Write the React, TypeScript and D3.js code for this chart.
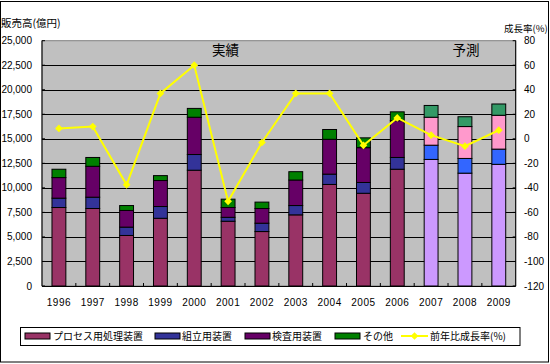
import React from 'react';
import * as d3 from 'd3';

const years = ['1996','1997','1998','1999','2000','2001','2002','2003','2004','2005','2006','2007','2008','2009'];
const processEq = [8000, 7900, 5150, 6900, 11800, 6600, 5550, 7250, 10350, 9450, 11900, 12900, 11500, 12400];
const assemblyEq = [950, 1150, 850, 1200, 1600, 400, 850, 950, 1050, 1100, 1200, 1450, 1500, 1550];
const inspectionEq = [2100, 3150, 1700, 2650, 3800, 1000, 1500, 2600, 3550, 3550, 3750, 2850, 3250, 3450];
const otherEq = [850, 900, 500, 500, 900, 850, 650, 850, 1000, 1000, 900, 1200, 1000, 1150];
const growth = [8.5, 10, -37.5, 37, 60, -51, -3, 37, 37, -5.3, 17, 3, -6, 7];
const forecastYears = ['2007', '2008', '2009'];
const leftTicks = [0, 2500, 5000, 7500, 10000, 12500, 15000, 17500, 20000, 22500, 25000];
const rightTicks = [-120, -100, -80, -60, -40, -20, 0, 20, 40, 60, 80];
const seriesNames = ['プロセス用処理装置', '組立用装置', '検査用装置', 'その他'];
const lineName = '前年比成長率(%)';
const actualColors = ['#993366', '#333399', '#660066', '#008000'];
const forecastColors = ['#CC99FF', '#3366FF', '#FF99CC', '#339966'];

const W = 550, H = 364;
const L = 42, R = 515.7, T = 40.7, B = 286;
const JP = '"Noto Sans CJK JP", "Noto Sans", sans-serif';
const NUM = '"Liberation Sans", Arial, sans-serif';

export default function App() {
  const x = d3.scaleBand<string>().domain(years).range([L, R]).paddingInner(0.59).paddingOuter(0.295);
  const y = d3.scaleLinear().domain([0, 25000]).range([B, T]);
  const y2 = d3.scaleLinear().domain([-120, 80]).range([B, T]);

  const rows = years.map((yr, i) => ({ year: yr, s0: processEq[i], s1: assemblyEq[i], s2: inspectionEq[i], s3: otherEq[i] }));
  const stack = d3.stack<any>().keys(['s0', 's1', 's2', 's3'])(rows);

  const step = x.step();
  const cx = (yr: string) => (x(yr) as number) + x.bandwidth() / 2;
  const line = d3.line<number>().x((_, i) => cx(years[i])).y(d => y2(d));
  const diamond = d3.symbol(d3.symbolSquare, 30)();

  const legendItems = [
    { x: 25, tx: 53 },
    { x: 155, tx: 182 },
    { x: 245, tx: 272 },
    { x: 335, tx: 363 },
  ];

  return (
    <div style={{ position: 'fixed', left: 0, top: 0 }}>
      <svg width={W} height={H} style={{ display: 'block' }}>
        <rect x={0} y={0} width={W} height={H} fill="#fff" />
        <rect x={0.5} y={1.5} width={548} height={360.5} fill="none" stroke="#000" strokeWidth={1} />
        {/* plot area */}
        <rect x={L} y={T} width={R - L} height={B - T} fill="#C0C0C0" stroke="#808080" strokeWidth={1} />
        {leftTicks.filter(t => t > 0 && t < 25000).map(t => (
          <line key={t} x1={L} x2={R} y1={Math.round(y(t)) + 0.5} y2={Math.round(y(t)) + 0.5} stroke="#000" strokeWidth={1} />
        ))}
        {/* bars */}
        {stack.map((ser, si) => (
          <g key={si}>
            {ser.map((d: any, i: number) => {
              const yr = years[i];
              const fc = forecastYears.includes(yr);
              return (
                <rect key={yr} x={x(yr)} y={y(d[1])} width={x.bandwidth()} height={y(d[0]) - y(d[1])}
                  fill={fc ? forecastColors[si] : actualColors[si]} stroke="#000" strokeWidth={1} />
              );
            })}
          </g>
        ))}
        {/* axes */}
        <line x1={L} x2={L} y1={T} y2={B} stroke="#000" />
        <line x1={R} x2={R} y1={T} y2={B} stroke="#000" />
        <line x1={L} x2={R} y1={B + 0.5} y2={B + 0.5} stroke="#000" />
        {years.map((yr, i) => i > 0 ? (
          <line key={yr} x1={L + step * i} x2={L + step * i} y1={B} y2={B - 3} stroke="#000" />
        ) : null)}
        {leftTicks.map(t => (
          <g key={t}>
            <line x1={L} x2={L + 3} y1={y(t)} y2={y(t)} stroke="#000" />
            <text x={32} y={y(t)} dy="0.35em" textAnchor="end" fontFamily={NUM} fontSize={10} fill="#000">{d3.format(',')(t)}</text>
          </g>
        ))}
        {rightTicks.map(t => (
          <g key={t}>
            <line x1={R - 3} x2={R} y1={y2(t)} y2={y2(t)} stroke="#000" />
            <text x={524} y={y2(t)} dy="0.35em" textAnchor="start" fontFamily={NUM} fontSize={10} fill="#000">{t}</text>
          </g>
        ))}
        {years.map(yr => (
          <text key={yr} x={cx(yr)} y={306} textAnchor="middle" fontFamily={NUM} fontSize={10} letterSpacing={0.5} fill="#000">{yr}</text>
        ))}
        {/* growth line */}
        <path d={line(growth) as string} fill="none" stroke="#FFFF00" strokeWidth={2} />
        {growth.map((g, i) => (
          <path key={i} d={diamond as string} transform={`translate(${cx(years[i])},${y2(g)}) rotate(45)`} fill="#FFFF00" />
        ))}
        {/* titles */}
        <text x={1} y={26.5} fontFamily={JP} fontSize={10.5} fill="#000">販売高(億円)</text>
        <text x={504} y={32} fontFamily={JP} fontSize={9.5} fill="#000">成長率(%)</text>
        <text x={225.5} y={55} textAnchor="middle" fontFamily={JP} fontSize={13.5} fill="#000">実績</text>
        <text x={466} y={55} textAnchor="middle" fontFamily={JP} fontSize={13.5} fill="#000">予測</text>
        {/* legend */}
        <rect x={20.5} y={327.5} width={499.5} height={18} fill="#fff" stroke="#000" />
        {legendItems.map((it, i) => (
          <g key={i}>
            <rect x={it.x} y={333} width={25} height={6} fill={actualColors[i]} stroke="#000" />
            <text x={it.tx} y={336} dy="0.35em" fontFamily={JP} fontSize={10} fill="#000">{seriesNames[i]}</text>
          </g>
        ))}
        <line x1={401} x2={428} y1={336} y2={336} stroke="#FFFF00" strokeWidth={2} />
        <path d={diamond as string} transform="translate(414.5,336) rotate(45)" fill="#FFFF00" />
        <text x={430} y={336} dy="0.35em" fontFamily={JP} fontSize={10} fill="#000">{lineName}</text>
      </svg>
    </div>
  );
}
